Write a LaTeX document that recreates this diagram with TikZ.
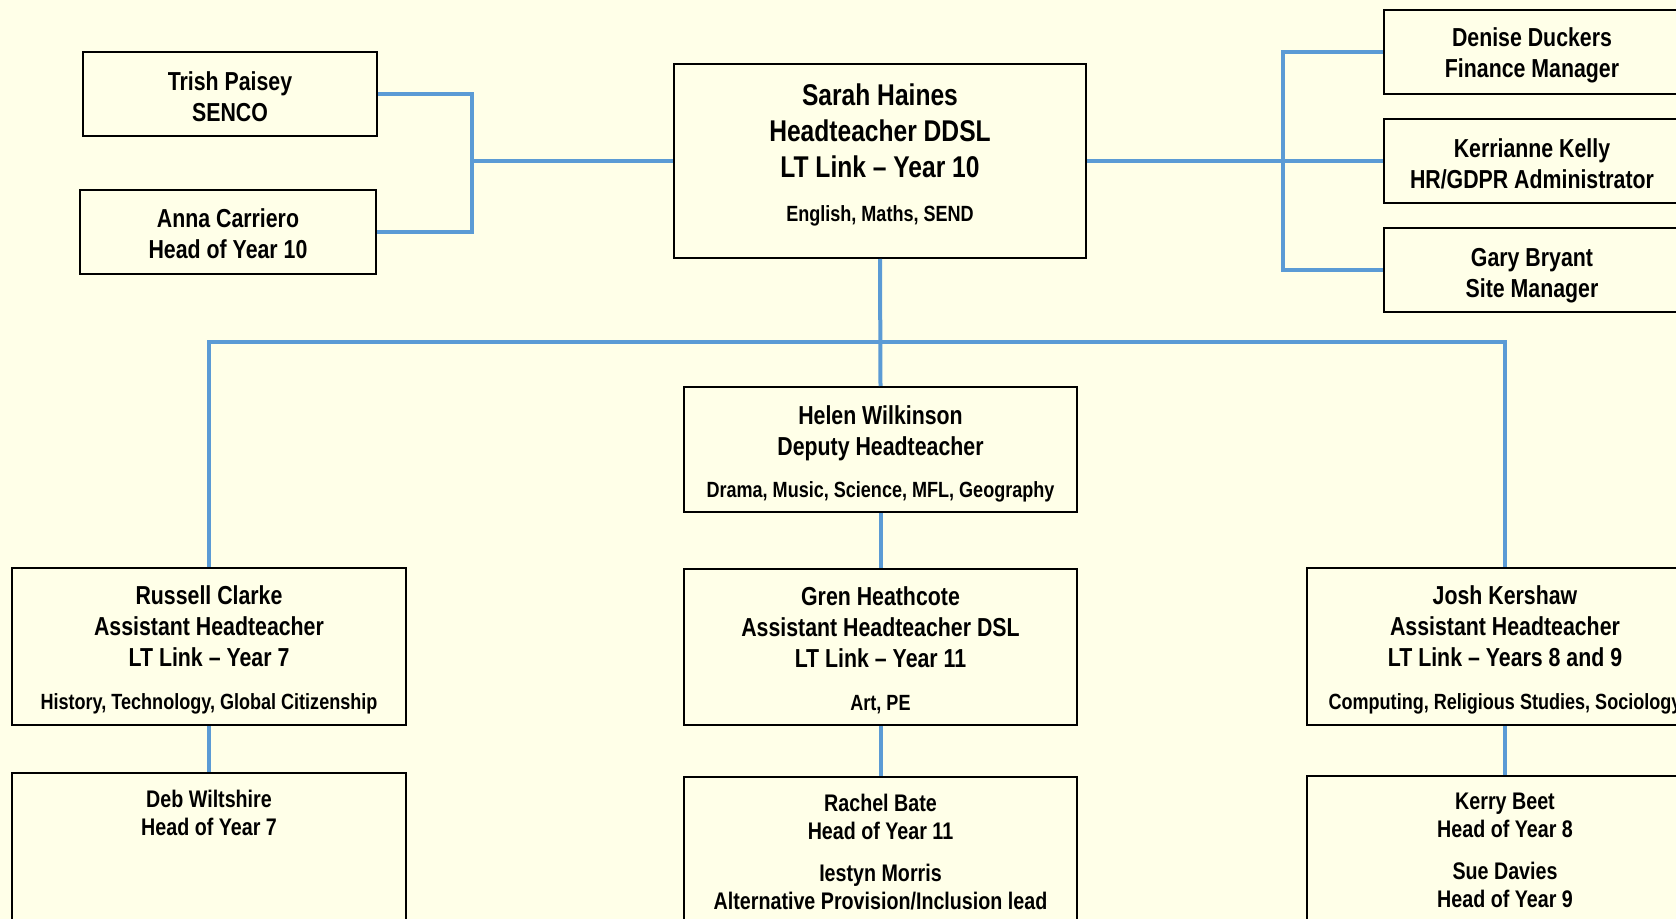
\documentclass[tikz,border=0pt]{standalone}
\usepackage{fontspec}
\setmainfont{Liberation Sans}[FakeStretch=0.82]
\usetikzlibrary{positioning}
\definecolor{paper}{HTML}{FFFFE8}
\definecolor{linkblue}{HTML}{5B9BD5}

\begin{document}
\begin{tikzpicture}[x=0.5pt,y=-0.5pt,
	box/.style={draw=black,line width=1pt,fill=paper,inner sep=0pt,align=flush center,font=\bfseries},
	link/.style={draw=linkblue,line width=2pt},
	lift/.style={execute at begin node={\rule{0pt}{#1}}},
	big/.style={font=\bfseries\fontsize{15}{18}\selectfont},
	mid/.style={font=\bfseries\fontsize{13}{15.5}\selectfont},
	small/.style={font=\bfseries\fontsize{12}{14}\selectfont}]
	
	%the page
	\useasboundingbox (0,0) rectangle (1676,919);
	\clip (0,0) rectangle (1676,919);
	\fill[paper] (0,0) rectangle (1676,919);
	
	%the headteacher and the two boxes on her left
	\node[box,big,text width=206pt,minimum height=97pt] (sarah) at (880,161) {Sarah Haines\\Headteacher DDSL\\LT Link -- Year 10\\[4pt]{\fontsize{11}{12}\selectfont English, Maths, SEND\rule[-8.5pt]{0pt}{0pt}}};
	\node[box,mid,lift=12.5pt,text width=147pt,minimum height=42pt] (trish) at (230,94) {Trish Paisey\\SENCO};
	\node[box,mid,lift=11.5pt,text width=148pt,minimum height=42pt] (anna) at (228,232) {Anna Carriero\\Head of Year 10};
	
	%support staff on the right
	\node[box,mid,lift=13pt,text width=148pt,minimum height=42pt] (denise) at (1532,52) {Denise Duckers\\Finance Manager};
	\node[box,mid,lift=12.5pt,text width=148pt,minimum height=42pt] (kerri) at (1532,161) {Kerrianne Kelly\\HR/GDPR Administrator};
	\node[box,mid,lift=15pt,text width=148pt,minimum height=42pt] (gary) at (1532,270) {Gary Bryant\\Site Manager};
	
	%deputy
	\node[box,mid,lift=14pt,text width=196.5pt,minimum height=62.5pt] (helen) at (880.5,449.5) {Helen Wilkinson\\Deputy Headteacher\\[5.5pt]{\fontsize{11}{12}\selectfont Drama, Music, Science, MFL, Geography}};
	
	%assistant heads
	\node[box,mid,lift=13pt,text width=197pt,minimum height=78.5pt] (russell) at (209,646.5) {Russell Clarke\\Assistant Headteacher\\LT Link -- Year 7\\[6pt]{\fontsize{11}{12}\selectfont History, Technology, Global Citizenship}};
	\node[box,mid,lift=13pt,text width=196.5pt,minimum height=78pt] (gren) at (880.5,647) {Gren Heathcote\\Assistant Headteacher DSL\\LT Link -- Year 11\\[6pt]{\fontsize{11}{12}\selectfont Art, PE}};
	\node[box,mid,lift=13pt,text width=198pt,minimum height=78.5pt] (josh) at (1505,646.5) {Josh Kershaw\\Assistant Headteacher\\LT Link -- Years 8 and 9\\[6pt]{\fontsize{11}{12}\selectfont Computing, Religious Studies, Sociology}};
	
	%heads of year, the boxes run off the page
	\node[box,text width=197pt,minimum height=100pt,anchor=north] (deb) at (209,772) {};
	\node[box,text width=196.5pt,minimum height=100pt,anchor=north] (rachel) at (880.5,776) {};
	\node[box,text width=198pt,minimum height=100pt,anchor=north] (kerry) at (1505,775) {};
	\node[small,align=center,below=5.3pt of deb.north] (debtext) {Deb Wiltshire\\Head of Year 7};
	\node[small,align=center,below=5.3pt of rachel.north] (racheltext) {Rachel Bate\\Head of Year 11\\[7pt]Iestyn Morris\\Alternative Provision/Inclusion lead};
	\node[small,align=center,below=5.3pt of kerry.north] (kerrytext) {Kerry Beet\\Head of Year 8\\[7pt]Sue Davies\\Head of Year 9};
	
	%the links
	\coordinate (lj) at (472,161);
	\draw[link] (trish.east) -| (lj) |- (anna.east);
	\draw[link] (lj) -- (sarah.west);
	\coordinate (rj) at (1283,161);
	\draw[link] (denise.west) -| (rj) |- (gary.west);
	\draw[link] (sarah.east) -- (kerri.west);
	\coordinate (bus) at (881,342);
	\draw[link] (sarah.south) -- (helen.north);
	\draw[link] (russell.north) |- (bus) -| (josh.north);
	\draw[link] (helen.south) -- (gren.north);
	\draw[link] (russell.south) -- (deb.north);
	\draw[link] (gren.south) -- (rachel.north);
	\draw[link] (josh.south) -- (kerry.north);
	
\end{tikzpicture}
\end{document}
